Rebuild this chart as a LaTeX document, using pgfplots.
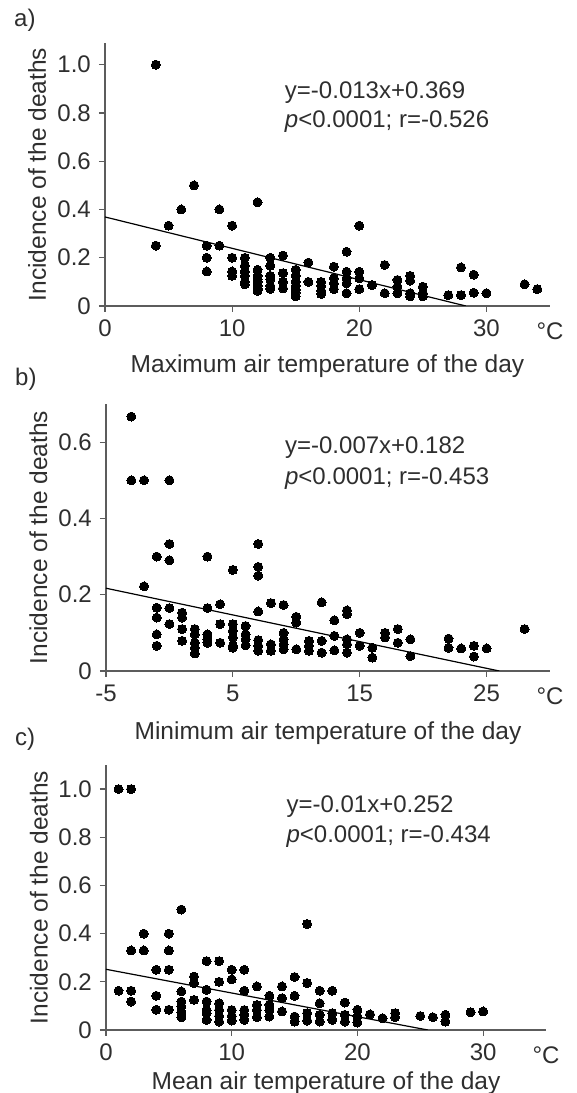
\documentclass[border=0pt]{standalone}
\usepackage{fontspec}
\setmainfont{Liberation Sans}
\usepackage{pgfplots}
\pgfplotsset{compat=1.18}
\definecolor{txt}{HTML}{2E2E2E}
\definecolor{axc}{HTML}{5C5C5C}
\pgfplotsset{
  panel/.style={
    scale only axis,
    axis x line*=bottom, axis y line*=left,
    axis line style={-, axc, line width=2.2pt},
    tick style={axc, line width=1.2pt},
    tick align=outside, major tick length=6pt,
    /pgf/number format/assume math mode=true,
    every tick label/.append style={font=\fontsize{24}{28}\selectfont, text=txt},
    label style={font=\fontsize{24.5}{28}\selectfont, text=txt},
    ylabel={Incidence of the deaths},
    ylabel style={at={(axis description cs:-0.1326,0.5)}, anchor=base, inner sep=0pt},
    clip mode=individual,
    ymin=0,
  },
  dots/.style={only marks, mark=*, mark size=4.5pt, mark options={fill=black, draw=black, line width=0pt}},
  reg/.style={black, line width=1.2pt, no marks},
}
\begin{document}
\fontsize{24}{28}\selectfont
\begin{tikzpicture}[x=1pt,y=1pt]
\useasboundingbox (0pt,0pt) rectangle (576pt,1093pt);
\node[anchor=base west, inner sep=0pt, text=txt] at (14pt,1066pt) {a)};
\node[anchor=base west, inner sep=0pt, text=txt] at (15pt,707pt) {b)};
\node[anchor=base west, inner sep=0pt, text=txt] at (15pt,347pt) {c)};
% ---------------- panel a
\begin{axis}[panel, at={(105pt,787pt)}, anchor=south west, width=445pt, height=263pt,
  xmin=0, xmax=35, ymax=1.09,
  xtick={0,10,20,30}, ytick={0,0.2,0.4,0.6,0.8,1.0},
  xticklabels={0,10,20,30},
  yticklabels={0,0.2,0.4,0.6,0.8,1.0},
  xlabel={Maximum air temperature of the day},
  xlabel style={at={(axis description cs:0.5,-0.251)}, anchor=base, inner sep=0pt}]
\addplot[dots] coordinates {
(4,1.0)(4,0.25)(5,0.333)(6,0.4)(7,0.5)
(8,0.25)(8,0.2)(8,0.143)
(9,0.4)(9,0.25)
(10,0.333)(10,0.2)(10,0.143)(10,0.125)
(11,0.2)(11,0.167)(11,0.143)(11,0.125)(11,0.1)(11,0.09)
(12,0.43)(12,0.15)(12,0.125)(12,0.111)(12,0.1)(12,0.083)(12,0.071)(12,0.063)
(13,0.2)(13,0.167)(13,0.125)(13,0.111)(13,0.083)(13,0.071)
(14,0.209)(14,0.136)(14,0.1)(14,0.073)
(15,0.15)(15,0.125)(15,0.1)(15,0.083)(15,0.067)(15,0.056)(15,0.04)
(16,0.18)(16,0.1)
(17,0.1)(17,0.083)(17,0.063)(17,0.05)
(18,0.163)(18,0.115)(18,0.094)(18,0.07)
(19,0.225)(19,0.142)(19,0.115)(19,0.094)(19,0.053)
(20,0.333)(20,0.142)(20,0.115)(20,0.07)
(21,0.087)
(22,0.17)(22,0.053)
(23,0.108)(23,0.08)(23,0.053)
(24,0.125)(24,0.105)(24,0.053)(24,0.04)
(25,0.08)(25,0.053)(25,0.04)
(27,0.045)
(28,0.16)(28,0.045)
(29,0.13)(29,0.055)
(30,0.053)
(33,0.09)(34,0.07)
};
\addplot[reg] coordinates {(0,0.369)(28.38,0)};
\node[anchor=base west, inner sep=0pt, text=txt] at (axis description cs:0.404,0.79) {y=-0.013x+0.369};
\node[anchor=base west, inner sep=0pt, text=txt] at (axis description cs:0.404,0.677) {\itshape p\upshape<0.0001; r=-0.526};
\node[anchor=base, inner sep=0pt, text=txt] at (axis description cs:1,0) [yshift=-34pt] {°C};
\end{axis}
% ---------------- panel b
\begin{axis}[panel, at={(106pt,422pt)}, anchor=south west, width=444pt, height=267pt,
  xmin=-5, xmax=30, ymax=0.7,
  xtick={-5,5,15,25}, ytick={0,0.2,0.4,0.6},
  yticklabels={0,0.2,0.4,0.6},
  xticklabels={-5,5,15,25},
  xlabel={Minimum air temperature of the day},
  xlabel style={at={(axis description cs:0.5,-0.255)}, anchor=base, inner sep=0pt}]
\addplot[dots] coordinates {
(-3,0.667)(-3,0.5)
(-2,0.5)(-2,0.222)
(-1,0.3)(-1,0.166)(-1,0.14)(-1,0.096)(-1,0.066)
(0,0.5)(0,0.333)(0,0.29)(0,0.165)(0,0.123)
(1,0.153)(1,0.14)(1,0.11)(1,0.079)
(2,0.11)(2,0.096)(2,0.074)(2,0.061)(2,0.046)
(3,0.3)(3,0.165)(3,0.096)(3,0.083)(3,0.074)
(4,0.175)(4,0.123)(4,0.074)
(5,0.265)(5,0.123)(5,0.105)(5,0.088)(5,0.066)(5,0.061)
(6,0.118)(6,0.096)(6,0.083)(6,0.067)
(7,0.333)(7,0.273)(7,0.25)(7,0.156)(7,0.081)(7,0.066)(7,0.053)
(8,0.178)(8,0.07)(8,0.053)
(9,0.173)(9,0.1)(9,0.083)(9,0.07)(9,0.057)
(10,0.142)(10,0.127)(10,0.057)
(11,0.079)(11,0.066)(11,0.053)
(12,0.18)(12,0.079)(12,0.048)
(13,0.133)(13,0.092)(13,0.054)
(14,0.159)(14,0.149)(14,0.083)(14,0.07)(14,0.048)
(15,0.1)(15,0.066)
(16,0.061)(16,0.035)
(17,0.1)(17,0.088)
(18,0.11)(18,0.074)
(19,0.083)(19,0.039)
(22,0.085)(22,0.061)
(23,0.059)
(24,0.066)(24,0.038)
(25,0.059)
(28,0.11)
};
\addplot[reg] coordinates {(-5,0.217)(26,0)};
\node[anchor=base west, inner sep=0pt, text=txt] at (axis description cs:0.403,0.816) {y=-0.007x+0.182};
\node[anchor=base west, inner sep=0pt, text=txt] at (axis description cs:0.403,0.697) {\itshape p\upshape<0.0001; r=-0.453};
\node[anchor=base, inner sep=0pt, text=txt] at (axis description cs:1,0) [yshift=-34pt] {°C};
\end{axis}
% ---------------- panel c
\begin{axis}[panel, at={(106pt,63pt)}, anchor=south west, width=440pt, height=265pt,
  xmin=0, xmax=35, ymax=1.1,
  xtick={0,10,20,30}, ytick={0,0.2,0.4,0.6,0.8,1.0},
  xticklabels={0,10,20,30},
  yticklabels={0,0.2,0.4,0.6,0.8,1.0},
  xlabel={Mean air temperature of the day},
  xlabel style={at={(axis description cs:0.5,-0.226)}, anchor=base, inner sep=0pt}]
\addplot[dots] coordinates {
(1,1.0)(2,1.0)
(1,0.163)
(2,0.33)(2,0.163)(2,0.118)
(3,0.4)(3,0.33)
(4,0.25)(4,0.142)(4,0.084)
(5,0.4)(5,0.33)(5,0.25)(5,0.084)
(6,0.5)(6,0.16)(6,0.118)(6,0.097)(6,0.074)(6,0.053)
(7,0.222)(7,0.195)(7,0.125)
(8,0.286)(8,0.167)(8,0.118)(8,0.083)(8,0.07)(8,0.042)
(9,0.286)(9,0.2)(9,0.111)(9,0.083)(9,0.058)(9,0.035)
(10,0.25)(10,0.21)(10,0.083)(10,0.058)(10,0.039)
(11,0.25)(11,0.163)(11,0.083)(11,0.063)(11,0.042)
(12,0.181)(12,0.104)(12,0.083)(12,0.053)
(13,0.142)(13,0.104)(13,0.083)(13,0.056)
(14,0.181)(14,0.132)(14,0.077)
(15,0.22)(15,0.142)(15,0.056)(15,0.035)
(16,0.44)(16,0.195)(16,0.07)(16,0.039)
(17,0.163)(17,0.111)(17,0.063)(17,0.035)
(18,0.163)(18,0.07)(18,0.042)
(19,0.114)(19,0.063)(19,0.035)
(20,0.084)(20,0.056)(20,0.031)
(21,0.065)
(22,0.049)
(23,0.07)(23,0.053)
(25,0.058)
(26,0.053)
(27,0.063)(27,0.035)
(29,0.074)
(30,0.077)
};
\addplot[reg] coordinates {(0,0.252)(25.6,0)};
\node[anchor=base west, inner sep=0pt, text=txt] at (axis description cs:0.41,0.819) {y=-0.01x+0.252};
\node[anchor=base west, inner sep=0pt, text=txt] at (axis description cs:0.41,0.706) {\itshape p\upshape<0.0001; r=-0.434};
\node[anchor=base, inner sep=0pt, text=txt] at (axis description cs:1,0) [yshift=-34pt] {°C};
\end{axis}
\end{tikzpicture}
\end{document}
